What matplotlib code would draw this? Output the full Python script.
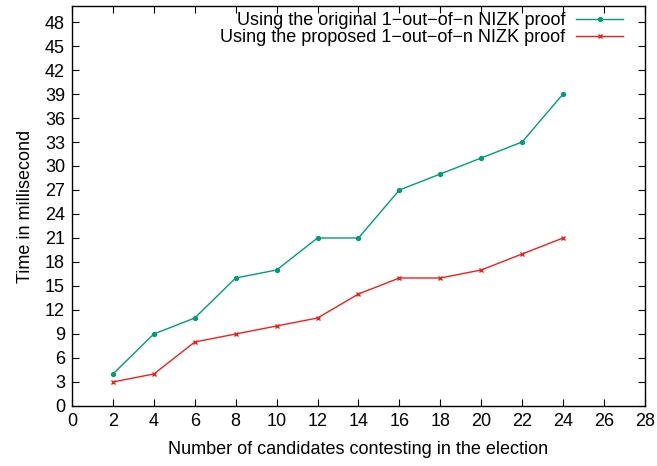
import numpy as np
import matplotlib.pyplot as plt

plt.rcParams['font.family'] = ['Liberation Sans', 'DejaVu Sans']

candidates = [2, 4, 6, 8, 10, 12, 14, 16, 18, 20, 22, 24]
original = [4, 9, 11, 16, 17, 21, 21, 27, 29, 31, 33, 39]
proposed = [3, 4, 8, 9, 10, 11, 14, 16, 16, 17, 19, 21]

fig = plt.figure(figsize=(6.57, 4.66), dpi=100)
ax = fig.add_axes([0.1096, 0.1288, 0.872, 0.8583])

ax.plot(candidates, original, '-o', color='#009e73', lw=1.0, ms=2.8,
        label='Using the original 1\u2212out\u2212of\u2212n NIZK proof')
ax.plot(candidates, proposed, '-x', color='#f0201c', lw=1.0, ms=3.5, mew=1.0,
        label='Using the proposed 1\u2212out\u2212of\u2212n NIZK proof')

ax.set_xlim(0, 28)
ax.set_ylim(0, 50)
ax.set_xticks(np.arange(0, 29, 2))
ax.set_yticks(np.arange(0, 49, 3))
ax.tick_params(direction='in', top=True, right=True, labelsize=13, length=5, width=0.8, pad=5)
for s in ax.spines.values():
    s.set_linewidth(1.0)

ax.set_xlabel('Number of candidates contesting in the election', fontsize=13, labelpad=8)
ax.set_ylabel('Time in millisecond', fontsize=13, labelpad=8)

ax.legend(loc='upper right', frameon=False, markerfirst=False, fontsize=13,
          handlelength=2.6, handletextpad=0.6, labelspacing=0.0,
          borderaxespad=0.0, bbox_to_anchor=(0.975, 1.003))

fig.savefig('out.png', dpi=100)
